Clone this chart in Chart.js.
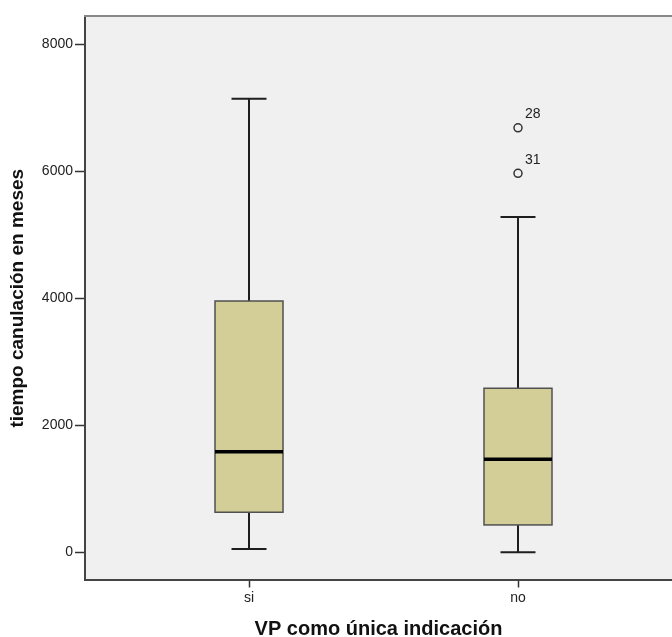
<!DOCTYPE html>
<html>
<head>
<meta charset="utf-8">
<script src="https://cdn.jsdelivr.net/npm/chart.js@4/dist/chart.umd.min.js"></script>
<style>
  html, body { margin: 0; padding: 0; background: #ffffff; }
  #wrap { width: 672px; height: 637px; }
</style>
</head>
<body>
<div id="wrap"><canvas id="c" width="672" height="637"></canvas></div>
<script>
// Box plot summary per group
const categories   = ['si', 'no'];
const whiskerLow   = [52, 0];
const quartile1    = [630, 430];
const medians      = [1585, 1465];
const quartile3    = [3959, 2584];
const whiskerHigh  = [7145, 5282];
const outlierVals  = [[], [6689, 5971]];
const outlierIds   = [[], ['28', '31']];
const yTicks       = [0, 2000, 4000, 6000, 8000];

const FONT = "'Liberation Sans', Arial, sans-serif";
const BOX_HALF = 0.1264;   // half box width in x units
const CAP_HALF = 0.065;    // half whisker cap width in x units

const outlierPoints = [];
const outlierText = [];
outlierVals.forEach((vals, i) => {
  vals.forEach((v, j) => {
    outlierPoints.push({ x: i + 1, y: v });
    outlierText.push(outlierIds[i][j]);
  });
});

const boxPlugin = {
  id: 'boxes',
  beforeDraw(chart) {
    const { ctx, chartArea: a } = chart;
    ctx.save();
    ctx.fillStyle = '#f0f0f0';
    ctx.fillRect(a.left, a.top, a.right - a.left, a.bottom - a.top);
    ctx.restore();
  },
  beforeDatasetsDraw(chart) {
    const { ctx } = chart;
    const xs = chart.scales.x, ys = chart.scales.y;
    ctx.save();
    categories.forEach((c, i) => {
      const cx = xs.getPixelForValue(i + 1);
      const xl = xs.getPixelForValue(i + 1 - BOX_HALF);
      const xr = xs.getPixelForValue(i + 1 + BOX_HALF);
      const cl = xs.getPixelForValue(i + 1 - CAP_HALF);
      const cr = xs.getPixelForValue(i + 1 + CAP_HALF);
      const yLo = ys.getPixelForValue(whiskerLow[i]);
      const yQ1 = ys.getPixelForValue(quartile1[i]);
      const yMd = ys.getPixelForValue(medians[i]);
      const yQ3 = ys.getPixelForValue(quartile3[i]);
      const yHi = ys.getPixelForValue(whiskerHigh[i]);

      // whiskers and caps
      ctx.strokeStyle = '#1e1e1e';
      ctx.lineWidth = 2;
      ctx.beginPath();
      ctx.moveTo(cx, yQ3); ctx.lineTo(cx, yHi);
      ctx.moveTo(cl, yHi); ctx.lineTo(cr, yHi);
      ctx.moveTo(cx, yQ1); ctx.lineTo(cx, yLo);
      ctx.moveTo(cl, yLo); ctx.lineTo(cr, yLo);
      ctx.stroke();

      // box
      ctx.fillStyle = '#d3ce97';
      ctx.fillRect(xl, yQ3, xr - xl, yQ1 - yQ3);
      ctx.strokeStyle = '#505050';
      ctx.lineWidth = 1.5;
      ctx.strokeRect(xl, yQ3, xr - xl, yQ1 - yQ3);

      // median
      ctx.strokeStyle = '#000000';
      ctx.lineWidth = 3.5;
      ctx.beginPath();
      ctx.moveTo(xl, yMd); ctx.lineTo(xr, yMd);
      ctx.stroke();
    });
    ctx.restore();
  },
  afterDatasetsDraw(chart) {
    const { ctx } = chart;
    const meta = chart.getDatasetMeta(0);
    ctx.save();
    ctx.fillStyle = '#222222';
    ctx.font = '14px ' + FONT;
    ctx.textAlign = 'left';
    ctx.textBaseline = 'alphabetic';
    meta.data.forEach((pt, k) => {
      ctx.fillText(outlierText[k], pt.x + 7, pt.y - 9.5);
    });
    // top frame line
    const a = chart.chartArea;
    ctx.strokeStyle = '#888888';
    ctx.lineWidth = 2;
    ctx.beginPath();
    ctx.moveTo(a.left - 1, a.top - 1);
    ctx.lineTo(a.right, a.top - 1);
    ctx.stroke();
    ctx.restore();
  }
};

new Chart(document.getElementById('c'), {
  type: 'scatter',
  data: {
    datasets: [{
      data: outlierPoints,
      pointStyle: 'circle',
      pointRadius: 4,
      pointBorderWidth: 1.5,
      borderColor: '#333333',
      backgroundColor: 'rgba(0,0,0,0)'
    }]
  },
  options: {
    responsive: false,
    animation: false,
    devicePixelRatio: 1,
    layout: { autoPadding: false, padding: { top: 17, right: 0, left: 0, bottom: 0 } },
    plugins: { legend: { display: false }, tooltip: { enabled: false } },
    scales: {
      x: {
        type: 'linear',
        min: 0.3903,
        max: 2.5725,
        afterFit(scale) { scale.height = 57.5; },
        afterBuildTicks(scale) { scale.ticks = categories.map((c, i) => ({ value: i + 1 })); },
        ticks: {
          callback: (v) => categories[v - 1],
          color: '#222222',
          font: { family: FONT, size: 14 },
          padding: 2,
          maxRotation: 0
        },
        grid: { drawOnChartArea: false, drawTicks: true, tickLength: 8, tickColor: '#333333', tickWidth: 1.5 },
        border: { display: true, color: '#444444', width: 2 },
        title: {
          display: true,
          text: 'VP como única indicación',
          color: '#111111',
          font: { family: FONT, size: 20, weight: 'bold', lineHeight: 0.8 },
          padding: { top: 0, bottom: 0 }
        }
      },
      y: {
        type: 'linear',
        min: -430,
        max: 8435,
        afterFit(scale) { scale.width = 85; },
        afterBuildTicks(scale) { scale.ticks = yTicks.map(v => ({ value: v })); },
        ticks: {
          callback: (v) => String(v),
          color: '#222222',
          font: { family: FONT, size: 14 },
          padding: 2
        },
        grid: { drawOnChartArea: false, drawTicks: true, tickLength: 10, tickColor: '#333333', tickWidth: 1.5 },
        border: { display: true, color: '#444444', width: 2 },
        title: {
          display: true,
          text: 'tiempo canulación en meses',
          color: '#111111',
          font: { family: FONT, size: 19, weight: 'bold', lineHeight: 1 },
          padding: { top: 8, bottom: 0 }
        }
      }
    }
  },
  plugins: [boxPlugin]
});
</script>
</body>
</html>
